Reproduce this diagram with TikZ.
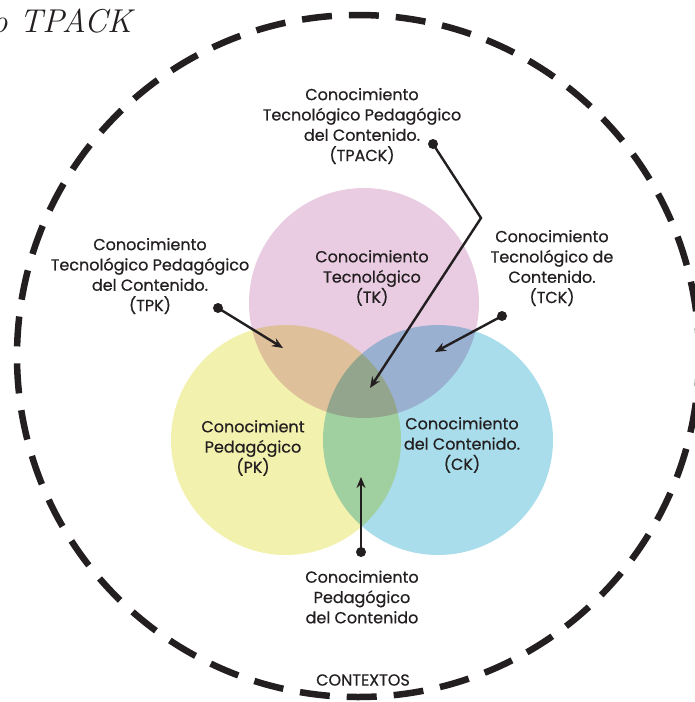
\documentclass[tikz,border=0pt]{standalone}
\usepackage{fontspec}
\setsansfont{Poppins}[FakeBold=0.6]
\usetikzlibrary{arrows.meta}
\definecolor{ink}{HTML}{231F20}
\definecolor{tkpink}{HTML}{E9CCE2}
\definecolor{pkyellow}{HTML}{F3F1AE}
\definecolor{ckblue}{HTML}{A9DDEB}
\tikzset{
  txt/.style={font=\sffamily\fontsize{16}{20.3}\selectfont, text=ink, align=center, inner sep=0pt},
  pointer/.style={draw=ink, line width=2.4pt, -{Stealth[length=11pt,width=9pt]}},
  dot/.style={circle, fill=ink, inner sep=0pt, minimum size=10pt}
}

\begin{document}
\begin{tikzpicture}[x=1pt,y=-1pt]
  \useasboundingbox (0,0) rectangle (694,702);
  \fill[white] (0,0) rectangle (694,702);
  % contexts
  \draw[ink, line width=6.5pt, dash pattern=on 30pt off 17pt] (358,356) circle (341);
  % the three knowledge domains
  \begin{scope}[blend mode=multiply]
    \fill[tkpink] (364,303) circle (115);
    \fill[pkyellow] (286,440) circle (115);
    \fill[ckblue] (438,440) circle (115);
  \end{scope}
  \node[font=\itshape\fontsize{33}{33}\selectfont, text=ink, anchor=base west, inner sep=0pt] (title) at (-9,32) {o TPACK};

  \node[txt] (tk) at (372,278) {Conocimiento\\Tecnológico\\(TK)};
  \node[txt] (pk) at (253,448) {Conocimient\\Pedagógico\\(PK)};
  \node[txt] (ck) at (462,445) {Conocimiento\\del Contenido.\\(CK)};

  \node[txt] (tpack) at (362,126) {Conocimiento\\Tecnológico Pedagógico\\del Contenido.\\(TPACK)};
  \node[txt] (tpk) at (150,276) {Conocimiento\\Tecnológico Pedagógico\\del Contenido.\\(TPK)};
  \node[txt] (tck) at (552,268) {Conocimiento\\Tecnológico de\\Contenido.\\(TCK)};
  \node[txt] (pck) at (362,597) {Conocimiento\\Pedagógico\\del Contenido};
  \node[txt] (ctx) at (363,680) {CONTEXTOS};

  % pointers
  \node[dot] (d1) at (433,144) {};
  \node[dot] (d2) at (218,308) {};
  \node[dot] (d3) at (502,316) {};
  \node[dot] (d4) at (361,552) {};
  \coordinate (bend) at (481,218);
  \coordinate (centre) at (370,388);
  \coordinate (tpkend) at (283,348);
  \coordinate (tckend) at (435,352);
  \coordinate (pckend) at (361,477);
  \draw[pointer] (d1.center) -- (bend) -- (centre);
  \draw[pointer] (d2.center) -- (tpkend);
  \draw[pointer] (d3.center) -- (tckend);
  \draw[pointer] (d4.center) -- (pckend);
\end{tikzpicture}
\end{document}
